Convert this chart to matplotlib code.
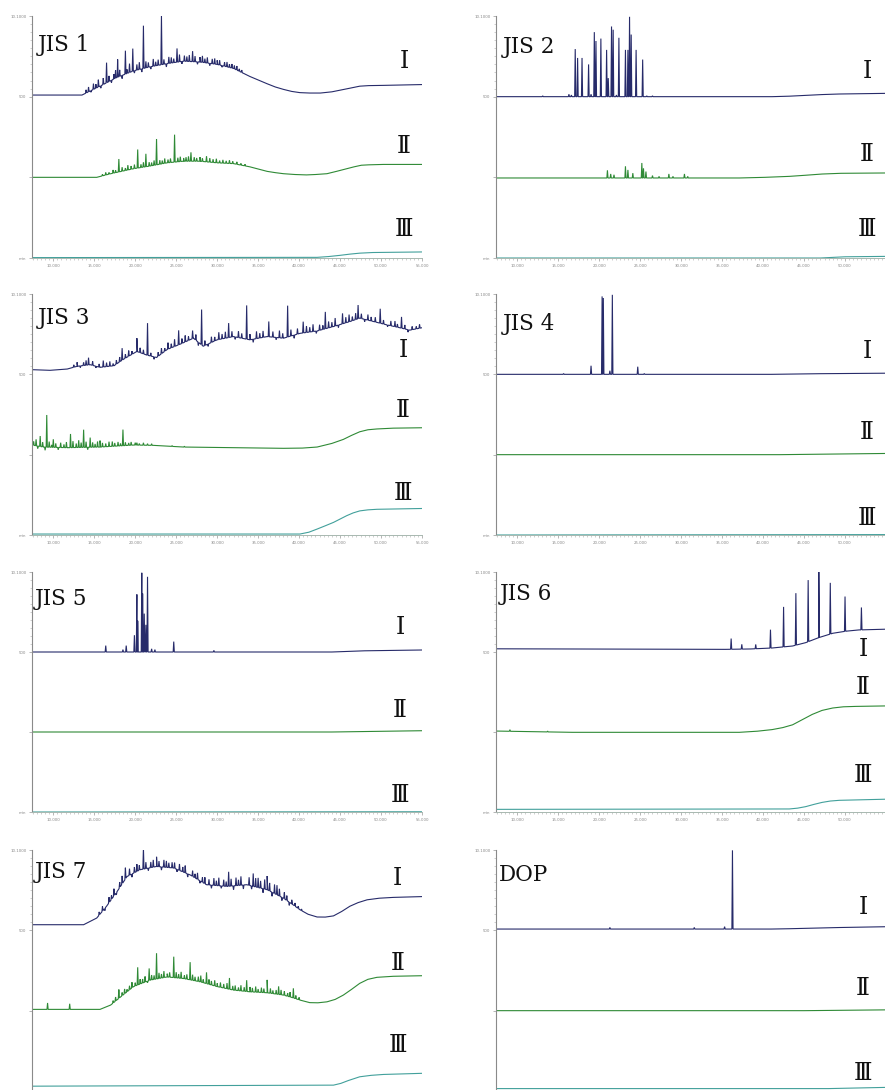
import numpy as np
import matplotlib
matplotlib.use("Agg")
import matplotlib.pyplot as plt

# retention time (min) ; every trace sits in its own band (I -> 2, II -> 1, III -> 0)
# *_base  : baseline knots (time, level)
# *_peaks : (time, height above baseline)

jis1_I_base = [(7.4, 0.02), (13.5, 0.02), (15.7, 0.13), (17.8, 0.24), (19.8, 0.32), (21.8, 0.37),
               (23.9, 0.41), (25.9, 0.44), (27.9, 0.43), (30.0, 0.40), (32.0, 0.35), (34.0, 0.25),
               (36.1, 0.16), (37.1, 0.12), (38.1, 0.09), (39.1, 0.065), (40.1, 0.05), (41.3, 0.045),
               (42.6, 0.045), (44.0, 0.06), (45.0, 0.08), (46.2, 0.105), (47.4, 0.13), (48.5, 0.137),
               (50.3, 0.14), (55.0, 0.15)]
jis1_I_peaks = [(16.5, 0.25), (17.85, 0.22), (18.8, 0.29), (19.7, 0.28), (21.0, 0.53), (23.2, 0.61),
                (25.1, 0.17), (27.0, 0.13),
                (14.0, .04), (14.3, .06), (14.6, -.02), (14.9, .07), (15.2, .05), (15.5, .09), (15.8, -.03),
                (16.1, .08), (16.8, .07), (17.1, -.03), (17.4, .06), (17.6, .10), (18.1, .08), (18.4, -.04),
                (19.0, .05), (19.3, .11), (19.9, -.03), (20.2, .07), (20.5, .09), (20.8, -.04), (21.3, .08),
                (21.6, .06), (21.9, -.03), (22.2, .09), (22.5, .05), (22.8, .07), (23.5, .06), (23.8, -.04),
                (24.1, .08), (24.4, .07), (24.7, .05), (25.4, .09), (25.7, -.03), (26.0, .07), (26.3, .06),
                (26.6, .08), (27.3, .07), (27.6, -.03), (27.9, .06), (28.2, .08), (28.5, .05), (28.8, .07),
                (29.1, -.03), (29.4, .06), (29.7, .07), (30.0, .05), (30.3, .06), (30.6, -.02), (30.9, .05),
                (31.2, .06), (31.5, .04), (31.8, .05), (32.1, .04), (32.4, .05), (32.7, .03), (33.0, .03)]
jis1_II_base = [(7.4, 0.0), (15.3, 0.0), (17.0, 0.045), (19.8, 0.107), (21.8, 0.14), (23.9, 0.18),
                (25.9, 0.20), (27.9, 0.20), (30.0, 0.18), (32.0, 0.17), (34.0, 0.13), (36.1, 0.074),
                (37.1, 0.058), (38.1, 0.045), (39.5, 0.035), (40.9, 0.03), (42.0, 0.035), (43.4, 0.045),
                (44.6, 0.075), (45.8, 0.107), (46.7, 0.13), (47.6, 0.15), (48.5, 0.155), (50.3, 0.16),
                (55.0, 0.16)]
jis1_II_peaks = [(18.0, .16), (20.3, .23), (21.3, .16), (22.6, .32), (24.8, .34), (26.8, .11), (28.7, .07),
                 (16.0, .02), (16.4, .03), (16.8, .02), (17.3, .04), (17.6, .03), (18.4, .05), (18.8, .03),
                 (19.1, .06), (19.5, .04), (19.9, .05), (20.7, .04), (21.0, .06), (21.7, .05), (22.0, .04),
                 (22.3, .06), (23.0, .05), (23.3, .04), (23.6, .06), (24.0, .04), (24.3, .05), (25.2, .05),
                 (25.5, .06), (25.9, .04), (26.2, .05), (26.5, .06), (27.2, .05), (27.5, .04), (27.9, .05),
                 (28.2, .04), (29.1, .05), (29.5, .04), (29.9, .05), (30.3, .03), (30.7, .04), (31.1, .03),
                 (31.5, .04), (31.9, .03), (32.4, .03), (32.9, .02), (33.4, .02)]
jis1_III_base = [(7.4, 0.005), (42.2, 0.008), (43.6, 0.018), (45.0, 0.033), (46.2, 0.048), (47.4, 0.06),
                 (49.0, 0.068), (55.0, 0.075)]

jis2_I_base = [(7.3, 0.0), (41.1, 0.0), (43.2, 0.006), (45.2, 0.016), (47.2, 0.026), (49.3, 0.033),
               (55.0, 0.041)]
jis2_I_peaks = [(17.07, 0.59), (17.36, 0.48), (17.9, 0.48), (18.7, 0.40), (19.4, 0.80), (19.6, 0.69),
                (20.2, 0.72), (20.9, 0.58), (21.1, 0.23), (21.5, 0.87), (21.7, 0.83), (22.4, 0.73),
                (23.2, 0.58), (23.5, 0.58), (23.7, 0.99), (23.9, 0.77), (24.5, 0.58), (25.3, 0.46),
                (13.1, 0.01), (16.3, 0.03), (16.6, 0.02), (19.0, 0.03), (22.1, 0.02), (25.8, 0.01), (26.5, 0.01)]
jis2_II_base = [(7.3, -0.008), (37.1, -0.008), (40.2, 0.0), (43.2, 0.012), (45.2, 0.026), (47.2, 0.041),
                (49.5, 0.05), (55.0, 0.054)]
jis2_II_peaks = [(21.0, .095), (21.4, .05), (21.8, .04), (23.2, .145), (23.5, .10), (24.1, .06), (25.2, .186),
                 (25.4, .12), (25.7, .08), (26.5, .03), (27.3, .02), (28.5, .05), (29.0, .02), (30.4, .05),
                 (30.8, .02)]
jis2_III_base = [(7.3, 0.0), (47.0, 0.0), (50.0, 0.015), (55.0, 0.02)]

jis3_I_base = [(7.4, 0.058), (9.6, 0.05), (11.7, 0.066), (12.9, 0.10), (14.5, 0.12), (15.7, 0.087),
               (17.4, 0.107), (18.6, 0.19), (20.2, 0.285), (21.4, 0.24), (22.6, 0.21), (23.9, 0.31),
               (25.5, 0.376), (27.1, 0.45), (28.3, 0.35), (30.0, 0.43), (32.0, 0.47), (34.0, 0.43),
               (36.1, 0.47), (38.1, 0.45), (40.1, 0.51), (42.2, 0.54), (44.2, 0.595), (46.2, 0.657),
               (47.4, 0.70), (49.1, 0.657), (50.7, 0.616), (52.3, 0.58), (53.5, 0.55), (55.0, 0.58)]
jis3_I_peaks = [(14.3, 0.09), (16.1, 0.08), (18.4, 0.15), (20.2, 0.165), (21.5, 0.40), (25.3, 0.18),
                (27.0, 0.10), (28.1, 0.44), (31.4, 0.18), (33.6, 0.42), (36.3, 0.19), (38.6, 0.39),
                (40.5, 0.14), (43.2, 0.21), (45.3, 0.13), (47.2, 0.17), (49.9, 0.18), (51.7, 0.07), (52.5, 0.14),
                (12.5, .03), (12.9, .05), (13.3, -.02), (13.7, .04), (14.0, .06), (14.8, .05), (15.2, -.02),
                (15.6, .04), (16.5, .05), (16.9, .06), (17.3, .03), (17.7, .05), (18.1, .06), (18.8, .05),
                (19.2, .07), (19.6, .04), (20.6, .06), (21.0, .05), (21.9, .04), (22.3, -.03), (22.8, .05),
                (23.2, .07), (23.6, .04), (24.0, .08), (24.4, .05), (24.8, .09), (25.7, .06), (26.1, .08),
                (26.5, .05), (27.4, .07), (27.7, -.04), (28.5, .06), (28.9, -.03), (29.3, .07), (29.7, .05),
                (30.2, .09), (30.6, .06), (31.0, .08), (31.8, .07), (32.2, -.03), (32.6, .08), (33.0, .06),
                (34.0, .07), (34.4, -.04), (34.8, .09), (35.2, .06), (35.6, .08), (36.8, .07), (37.2, -.03),
                (37.6, .09), (38.0, .06), (39.0, .08), (39.4, -.04), (39.8, .07), (40.9, .08), (41.3, .06),
                (41.7, .09), (42.1, -.03), (42.5, .07), (42.9, .05), (43.6, .08), (44.0, .06), (44.4, .10),
                (44.8, -.03), (45.7, .07), (46.1, .09), (46.5, .05), (46.9, .08), (47.6, .06), (48.0, -.03),
                (48.4, .07), (48.8, .05), (49.3, .06), (50.3, .05), (50.8, -.02), (51.2, .06), (52.0, .04),
                (52.9, .05), (53.3, -.03), (53.8, .04), (54.3, .03), (54.7, .05)]
jis3_II_base = [(7.4, 0.12), (8.8, 0.095), (11.7, 0.087), (15.7, 0.095), (19.8, 0.12), (22.2, 0.116),
                (25.9, 0.095), (32.0, 0.087), (38.1, 0.079), (40.4, 0.082), (42.2, 0.095), (44.0, 0.14),
                (45.4, 0.19), (46.4, 0.24), (47.4, 0.285), (48.4, 0.31), (49.5, 0.32), (51.5, 0.33),
                (55.0, 0.335)]
jis3_II_peaks = [(8.4, .13), (9.2, .40), (10.0, .10), (12.1, .17), (13.7, .22), (14.5, .12), (15.7, .08),
                 (17.2, .06), (18.5, .20), (20.2, .03),
                 (7.6, .05), (7.9, .08), (8.1, -.03), (8.7, .06), (9.0, -.04), (9.5, .07), (9.8, .03),
                 (10.3, .05), (10.6, -.03), (10.9, .06), (11.3, .04), (11.6, .07), (12.4, .08), (12.8, .05),
                 (13.1, .09), (13.4, .06), (14.0, .07), (14.2, -.03), (14.8, .06), (15.1, .04), (15.4, .07),
                 (16.0, .05), (16.4, .04), (16.8, .06), (17.5, .04), (17.9, .05), (18.2, .03), (18.8, .04),
                 (19.2, .03), (19.5, .04), (20.0, .03), (20.5, .02), (21.0, .03), (21.5, .02), (22.0, .02),
                 (24.5, .01), (26.0, .01)]
jis3_III_base = [(7.4, 0.012), (40.1, 0.012), (41.2, 0.035), (42.2, 0.074), (43.2, 0.115), (44.2, 0.157),
                 (45.8, 0.24), (46.6, 0.275), (47.4, 0.30), (48.4, 0.313), (49.5, 0.32), (55.0, 0.33)]

jis4_I_base = [(7.3, 0.0), (41.0, 0.0), (47.0, 0.008), (55.0, 0.014)]
jis4_I_peaks = [(15.65, 0.01), (19.0, 0.107), (20.35, 0.97), (20.5, 0.95), (21.3, 0.045), (21.6, 0.99),
                (24.7, 0.095), (25.5, 0.01)]
jis4_II_base = [(7.3, 0.0), (42.0, 0.0), (55.0, 0.015)]
jis4_III_base = [(7.3, 0.0), (55.0, 0.005)]

jis5_I_base = [(7.4, 0.0), (44.0, 0.0), (48.0, 0.015), (55.0, 0.025)]
jis5_I_peaks = [(16.4, 0.08), (18.5, 0.03), (18.9, 0.08), (19.9, 0.21), (20.2, 0.72), (20.3, 0.39),
                (20.8, 0.99), (20.9, 0.73), (21.1, 0.48), (21.3, 0.34), (21.5, 0.94), (22.0, 0.04),
                (22.4, 0.03), (24.7, 0.13), (29.6, 0.02)]
jis5_II_base = [(7.4, 0.0), (44.0, 0.0), (55.0, 0.016)]
jis5_III_base = [(7.4, 0.0), (55.0, 0.003)]

jis6_I_base = [(7.3, 0.04), (35.4, 0.033), (38.5, 0.038), (41.1, 0.05), (43.6, 0.075), (45.2, 0.117),
               (46.8, 0.18), (48.5, 0.234), (50.1, 0.26), (51.7, 0.276), (55.0, 0.285)]
jis6_I_peaks = [(36.1, 0.134), (37.4, 0.06), (39.1, 0.054), (40.9, 0.23), (42.5, 0.50), (44.0, 0.65),
                (45.5, 0.77), (46.8, 0.82), (48.2, 0.64), (50.0, 0.435), (52.0, 0.28)]
jis6_II_base = [(7.3, 0.012), (16.7, -0.004), (37.1, -0.004), (39.3, 0.01), (41.1, 0.03), (42.4, 0.055),
                (43.6, 0.09), (44.8, 0.155), (46.0, 0.22), (47.2, 0.27), (48.5, 0.30), (49.8, 0.315),
                (51.3, 0.32), (55.0, 0.326)]
jis6_II_peaks = [(9.1, 0.02), (13.7, 0.01)]
jis6_III_base = [(7.3, 0.033), (43.2, 0.038), (44.2, 0.048), (45.2, 0.067), (46.2, 0.095), (47.2, 0.12),
                 (48.2, 0.137), (49.3, 0.146), (55.0, 0.16)]

jis7_I_base = [(7.4, 0.07), (13.7, 0.07), (15.3, 0.153), (16.5, 0.30), (17.8, 0.485), (19.0, 0.67),
               (20.6, 0.755), (22.6, 0.795), (24.7, 0.776), (26.7, 0.69), (28.7, 0.568), (31.2, 0.547),
               (33.6, 0.568), (36.1, 0.506), (38.1, 0.40), (39.1, 0.33), (40.1, 0.257), (41.1, 0.20),
               (42.2, 0.166), (43.2, 0.165), (44.2, 0.18), (45.2, 0.235), (46.2, 0.30), (47.2, 0.345),
               (48.3, 0.38), (49.8, 0.40), (51.5, 0.41), (55.0, 0.42)]
jis7_I_peaks = [(18.8, 0.14), (21.0, 0.26), (22.6, 0.12), (23.5, 0.09), (24.5, 0.07), (31.4, 0.18),
                (34.4, 0.16), (35.0, 0.12), (36.1, 0.17), (37.3, 0.12),
                (15.6, .04), (16.0, .06), (16.3, -.03), (16.8, .07), (17.1, .05), (17.4, .09), (17.7, -.03),
                (18.1, .07), (18.4, .10), (19.3, .08), (19.6, -.04), (19.9, .07), (20.2, .09), (20.5, .06),
                (21.3, .08), (21.6, -.03), (21.9, .07), (22.2, .09), (22.9, .07), (23.2, -.04), (23.8, .08),
                (24.1, .06), (24.8, .07), (25.1, -.03), (25.4, .08), (25.8, .06), (26.1, .09), (26.4, -.04),
                (27.0, .07), (27.3, .05), (27.6, .08), (27.9, -.03), (28.2, .06), (28.5, .08), (29.0, .07),
                (29.3, -.04), (29.6, .09), (29.9, .06), (30.2, .10), (30.5, -.03), (30.8, .08), (31.1, .06),
                (31.7, .09), (32.0, -.05), (32.3, .10), (32.6, .07), (32.9, .11), (33.2, -.05), (33.9, .10),
                (34.2, -.04), (34.7, .11), (35.3, .09), (35.6, -.05), (35.8, .12), (36.4, .10), (36.7, -.05),
                (37.0, .11), (37.6, .09), (37.9, -.04), (38.2, .08), (38.5, .06), (38.8, -.04), (39.1, .05),
                (39.5, .04), (39.9, .03), (40.3, .02)]
jis7_II_base = [(7.4, 0.016), (15.7, 0.016), (17.0, 0.07), (18.2, 0.17), (19.8, 0.30), (21.8, 0.38),
                (23.9, 0.42), (25.9, 0.40), (27.9, 0.36), (30.0, 0.30), (32.0, 0.256), (34.0, 0.235),
                (36.1, 0.223), (38.1, 0.194), (39.1, 0.165), (40.1, 0.132), (41.3, 0.10), (42.3, 0.098),
                (43.4, 0.11), (44.4, 0.14), (45.4, 0.194), (46.4, 0.265), (47.4, 0.34), (48.4, 0.39),
                (49.5, 0.415), (51.5, 0.428), (55.0, 0.435)]
jis7_II_peaks = [(9.3, .08), (12.0, .07), (18.0, .11), (20.3, .22), (21.7, .15), (22.6, .32), (24.7, .26),
                 (26.7, .22), (28.7, .14), (31.5, .14), (33.6, .14), (36.1, .16), (37.5, .10), (39.3, .12),
                 (17.3, .03), (17.6, .05), (18.4, .04), (18.7, .06), (19.0, .03), (19.3, .05), (19.6, .07),
                 (20.0, .04), (20.6, .06), (20.9, .05), (21.2, .07), (21.5, -.02), (22.0, .06), (22.3, .05),
                 (22.9, .07), (23.2, .05), (23.5, .08), (23.9, .04), (24.2, .06), (25.0, .07), (25.3, .05),
                 (25.6, .08), (26.0, .04), (26.3, .06), (27.0, .07), (27.3, .05), (27.7, .06), (28.0, .08),
                 (28.3, .04), (29.0, .06), (29.3, .05), (29.7, .07), (30.0, .04), (30.4, .06), (30.8, .05),
                 (31.2, .07), (31.9, .05), (32.2, .06), (32.6, .04), (32.9, .07), (33.3, .05), (34.0, .06),
                 (34.3, .05), (34.7, .07), (35.0, .04), (35.4, .06), (35.7, .05), (36.5, .06), (36.8, .04),
                 (37.2, .05), (37.8, .06), (38.2, .05), (38.6, .04), (38.9, .06), (39.6, .04), (40.0, .03)]
jis7_III_base = [(7.4, 0.06), (44.2, 0.073), (45.1, 0.095), (46.0, 0.13), (47.4, 0.177), (48.8, 0.195),
                 (50.3, 0.206), (55.0, 0.22)]

dop_I_base = [(7.3, 0.016), (41.0, 0.016), (43.2, 0.02), (49.3, 0.035), (55.0, 0.045)]
dop_I_peaks = [(21.3, 0.02), (31.6, 0.02), (35.3, 0.03), (36.26, 0.98)]
dop_II_base = [(7.3, 0.0), (45.0, 0.0), (55.0, 0.01)]
dop_III_base = [(7.3, 0.03), (48.0, 0.03), (55.0, 0.045)]

panel_names = ["JIS 1", "JIS 2", "JIS 3", "JIS 4", "JIS 5", "JIS 6", "JIS 7", "DOP"]
panel_traces = [
    [(jis1_I_base, jis1_I_peaks), (jis1_II_base, jis1_II_peaks), (jis1_III_base, [])],
    [(jis2_I_base, jis2_I_peaks), (jis2_II_base, jis2_II_peaks), (jis2_III_base, [])],
    [(jis3_I_base, jis3_I_peaks), (jis3_II_base, jis3_II_peaks), (jis3_III_base, [])],
    [(jis4_I_base, jis4_I_peaks), (jis4_II_base, []), (jis4_III_base, [])],
    [(jis5_I_base, jis5_I_peaks), (jis5_II_base, []), (jis5_III_base, [])],
    [(jis6_I_base, jis6_I_peaks), (jis6_II_base, jis6_II_peaks), (jis6_III_base, [])],
    [(jis7_I_base, jis7_I_peaks), (jis7_II_base, jis7_II_peaks), (jis7_III_base, [])],
    [(dop_I_base, dop_I_peaks), (dop_II_base, []), (dop_III_base, [])],
]
trace_offsets = [2, 1, 0]
numerals = ["\u2160", "\u2161", "\u2162"]
x_ticks = [10, 15, 20, 25, 30, 35, 40, 45, 50, 55]

# ---- layout (pixels of the 885x1090 figure)
W, H = 885, 1090
col_left = [32, 496]
rows = [(16, 258), (294, 535), (572, 812), (850, 1091)]
name_pos = [(0.015, 2.64), (0.018, 2.62), (0.015, 2.70), (0.018, 2.63),
            (0.008, 2.66), (0.010, 2.72), (0.008, 2.73), (0.008, 2.69)]
numeral_pos = [(0.954, [2.43, 1.38, 0.35]), (0.951, [2.31, 1.28, 0.35]),
               (0.951, [2.30, 1.55, 0.52]), (0.951, [2.29, 1.28, 0.20]),
               (0.944, [2.30, 1.27, 0.21]), (0.941, [2.03, 1.55, 0.46]),
               (0.938, [2.65, 1.59, 0.57]), (0.941, [2.29, 1.28, 0.22])]
colors = ["#272b6a", "#2f8a36", "#42a09b"]
serif = ["DejaVu Serif", "DejaVu Sans"]


def make_trace(base, peaks, w=0.07):
	bt = np.array([p[0] for p in base])
	by = np.array([p[1] for p in base])
	pts = list(base)
	for t, h in peaks:
		b = np.interp(t, bt, by)
		pts.append((t - w, np.interp(t - w, bt, by)))
		pts.append((t, b + h))
		pts.append((t + w, np.interp(t + w, bt, by)))
	pts.sort(key=lambda p: p[0])
	return [p[0] for p in pts], [p[1] for p in pts]


fig = plt.figure(figsize=(W / 100, H / 100), dpi=100)

for i, name in enumerate(panel_names):
	r, c = divmod(i, 2)
	top, bot = rows[r]
	ax = fig.add_axes([col_left[c] / W, 1 - bot / H, 390 / W, (bot - top) / H])
	for k, (base, peaks) in enumerate(panel_traces[i]):
		tx, ty = make_trace(base, peaks)
		ax.plot(tx, np.array(ty) + trace_offsets[k], color=colors[k], lw=0.8, solid_joinstyle='miter')

	ax.set_xlim(7.4, 55.0)
	ax.set_ylim(0, 3)
	for s in ['top', 'right']:
		ax.spines[s].set_visible(False)
	ax.spines['left'].set_color('#8a8a8a')
	ax.spines['bottom'].set_color('#a8b8b0')
	ax.spines['left'].set_linewidth(0.8)
	ax.spines['bottom'].set_linewidth(0.7)

	# right column runs off the page: its last time label is left out
	labels = ["%.3f" % v for v in x_ticks]
	if c == 1:
		labels[-1] = ""
	ylabels = ["min", "", "500", "10.1000"]
	ax.set_xticks(x_ticks)
	ax.set_xticklabels(labels)
	ax.set_xticks(np.arange(7.5, 55.1, 0.5), minor=True)
	ax.set_yticks([0, 1, 2, 3])
	ax.set_yticks(np.arange(2.1, 2.95, 0.1), minor=True)
	ax.tick_params(axis='both', which='major', length=2.5, width=0.5, color='#999999',
	               labelsize=2.8, labelcolor='#888888', pad=1.5)
	ax.tick_params(axis='both', which='minor', length=1.5, width=0.4, color='#aaaaaa')
	if r == 3:
		# bottom row: the time axis falls below the page edge
		ax.tick_params(axis='x', labelbottom=False)
		ylabels[0] = ""
	ax.set_yticklabels(ylabels)

	ax.text(name_pos[i][0], name_pos[i][1], name, transform=ax.get_yaxis_transform(),
	        ha='left', va='center', fontsize=15.5, family=serif, color='#111111')
	nx, ny = numeral_pos[i]
	for k in range(3):
		ax.text(nx, ny[k], numerals[k], transform=ax.get_yaxis_transform(),
		        ha='center', va='center', fontsize=17, family=serif, color='#111111')

fig.savefig("out.png", dpi=100)
